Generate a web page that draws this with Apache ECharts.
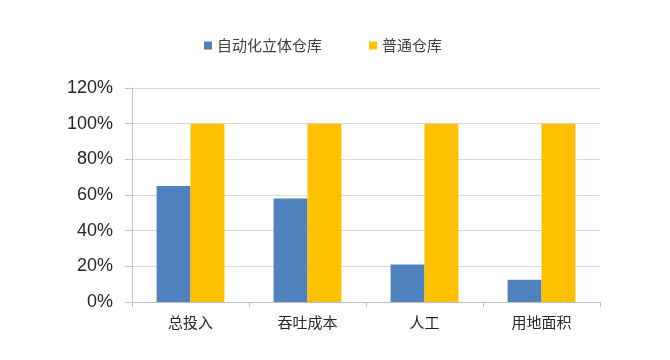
<!DOCTYPE html>
<html><head><meta charset="utf-8">
<script src="https://cdn.jsdelivr.net/npm/echarts@6/dist/echarts.min.js"></script>
<style>html,body{margin:0;padding:0;background:#fff}#c{width:670px;height:360px}</style>
</head><body><div id="c"></div>
<script>
var categories = ['总投入', '吞吐成本', '人工', '用地面积'];
var autoWarehouse = [65, 58, 21, 12.5];
var normalWarehouse = [100, 100, 100, 100];
var yTicks = [0, 20, 40, 60, 80, 100, 120];
var seriesNames = ['自动化立体仓库', '普通仓库'];

var chart = echarts.init(document.getElementById('c'));
var font = '"Noto Sans CJK SC", sans-serif';
chart.setOption({
  animation: false,
  legend: {
    top: 33, left: 199, itemWidth: 8, itemHeight: 8, itemGap: 47,
    icon: 'rect',
    textStyle: { fontSize: 15, color: '#404040', fontFamily: font }
  },
  grid: { left: 132, right: 70, top: 88, bottom: 58 },
  xAxis: {
    type: 'category', data: categories,
    axisLine: { lineStyle: { color: '#BFBFBF' } },
    axisTick: { show: true, lineStyle: { color: '#BFBFBF' }, length: 5 },
    axisLabel: { fontSize: 15, color: '#262626', fontFamily: font, margin: 13 }
  },
  yAxis: {
    type: 'value', min: yTicks[0], max: yTicks[yTicks.length - 1], interval: 20,
    axisLine: { show: true, lineStyle: { color: '#BFBFBF' } },
    axisTick: { show: true, lineStyle: { color: '#BFBFBF' }, length: 7 },
    splitLine: { lineStyle: { color: '#D9D9D9' } },
    axisLabel: { fontSize: 18, color: '#262626', fontFamily: '"Liberation Sans", Arial, sans-serif', margin: 19,
      formatter: function (v) { return v + '%'; } }
  },
  series: [
    { name: seriesNames[0], type: 'bar', data: autoWarehouse, barGap: '0%', barCategoryGap: '42%',
      itemStyle: { color: '#4F81BD' } },
    { name: seriesNames[1], type: 'bar', data: normalWarehouse, barGap: '0%', barCategoryGap: '42%',
      itemStyle: { color: '#FFC000' } }
  ]
});
</script></body></html>
